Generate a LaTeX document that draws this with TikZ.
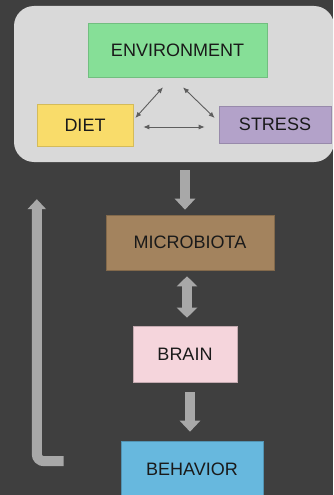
\documentclass[tikz,border=0pt]{standalone}
\usepackage{fontspec}
\setmainfont{Liberation Sans}
\usetikzlibrary{arrows.meta,calc}
\definecolor{bgc}{HTML}{3F3F3F}
\definecolor{panelc}{HTML}{D9D9D9}
\definecolor{bigc}{HTML}{A8A8A8}
\definecolor{thinc}{HTML}{5E5E5E}
\definecolor{txtc}{HTML}{1A1A1A}
\definecolor{envc}{HTML}{86DF97}
\definecolor{dietc}{HTML}{F9DC6A}
\definecolor{stressc}{HTML}{B3A2C9}
\definecolor{microc}{HTML}{A3835E}
\definecolor{brainc}{HTML}{F5D5DC}
\definecolor{behavc}{HTML}{67B8DE}
\tikzset{
  box/.style={rectangle, inner sep=0pt, line width=0.6pt, text=txtc,
    font=\fontsize{18}{20}\selectfont},
  panelbox/.style={rectangle, rounded corners=20pt, fill=panelc, inner sep=0pt},
  thinarrow/.style={draw=thinc, line width=0.9pt,
    {Latex[length=6pt,width=5pt]}-{Latex[length=6pt,width=5pt]}},
  bigarrow/.style={draw=bigc, line width=10pt, -{Triangle[width=20pt,length=11pt]}},
  bigdouble/.style={draw=bigc, line width=10pt,
    {Triangle[width=20pt,length=10pt]}-{Triangle[width=20pt,length=10pt]}},
  feedback/.style={draw=bigc, line width=10pt, rounded corners=7pt,
    -{Triangle[width=18pt,length=10pt]}}
}
\begin{document}
\begin{tikzpicture}[x=1pt,y=-1pt]
\useasboundingbox (0,0) rectangle (333,495);
\fill[bgc] (0,0) rectangle (333,495);
\begin{scope}
\clip (0,0) rectangle (333,495);
\node[panelbox, minimum width=320pt, minimum height=156pt] (panel) at (174,84) {};
\node[box, fill=envc, draw=envc!85!black, minimum width=179pt, minimum height=54pt] (env) at (177.5,50) {ENVIRONMENT};
\node[box, fill=dietc, draw=dietc!85!black, minimum width=96pt, minimum height=42pt] (diet) at (85,125) {DIET};
\node[box, fill=stressc, draw=stressc!85!black, minimum width=112pt, minimum height=37pt] (stress) at (275,124.5) {STRESS};
\node[box, fill=microc, draw=microc!80!black, minimum width=168pt, minimum height=55pt] (micro) at (190,242.5) {MICROBIOTA};
\node[box, fill=brainc, draw=brainc!80!black, minimum width=104pt, minimum height=56pt] (brain) at (185,354) {BRAIN};
\node[box, fill=behavc, draw=behavc!80!black, minimum width=142pt, minimum height=56pt] (behav) at (192,469) {BEHAVIOR};
\coordinate (fbtop) at ($(panel.south west)+(23,37)$);

\draw[thinarrow] ($(diet.east)+(2,-7)$) -- ($(env.south)+(-14.5,10)$);
\draw[thinarrow] ($(env.south)+(5.5,10)$) -- ($(stress.west)+(-4,-6.5)$);
\draw[thinarrow] ($(diet.east)+(10,2)$) -- ($(stress.west)+(-14,2.5)$);

\draw[bigarrow] ($(panel.south)+(11,8)$) -- ($(micro.north)+(-5,-5)$);
\draw[bigdouble] ($(micro.south)+(-3,6)$) -- ($(brain.north)+(2,-8)$);
\draw[bigarrow] ($(brain.south)+(5,10)$) -- ($(behav.north)+(-2,-9)$);
\draw[feedback] ($(behav.west)+(-57,-8)$) -- ($(fbtop)+(0,262)$) -- (fbtop);
\end{scope}
\end{tikzpicture}
\end{document}
